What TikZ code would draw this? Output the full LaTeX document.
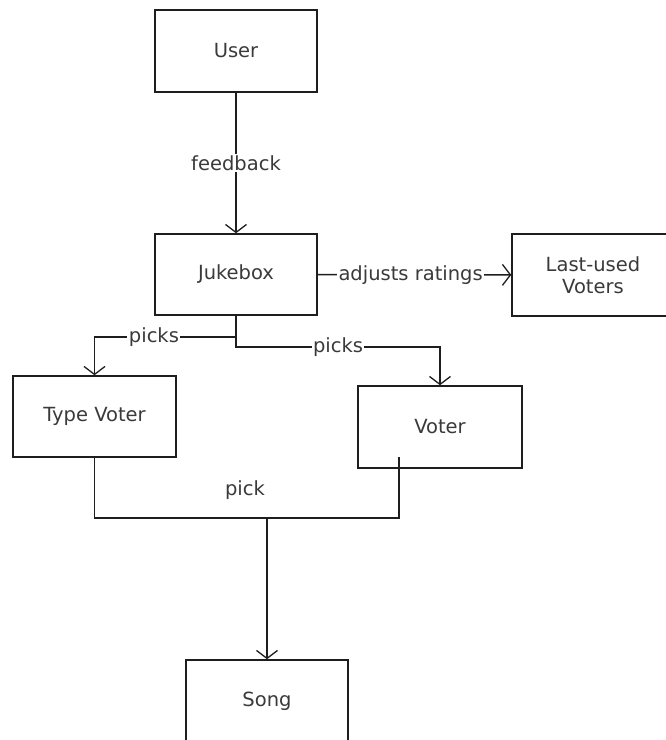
\documentclass[tikz,border=0pt]{standalone}
\usepackage{fontspec}
\setmainfont{DejaVu Sans}
\usetikzlibrary{arrows.meta}
\definecolor{ink}{HTML}{1E1E1E}
\definecolor{txt}{HTML}{3A3A3A}
\begin{document}
\begin{tikzpicture}[x=1pt,y=-1pt,
  box/.style={draw=ink, line width=1.5pt, minimum width=162pt, minimum height=82pt,
    inner sep=0pt, font=\fontsize{19.5}{22}\selectfont, text=txt, align=center},
  conn/.style={draw=ink, line width=1.5pt},
  arr/.style={conn, -{Straight Barb[length=8pt,width=21pt,line width=1.3pt]}},
  lbl/.style={fill=white, inner sep=1.5pt, font=\fontsize{19.5}{22}\selectfont, text=txt}]
\useasboundingbox (0,0) rectangle (666,740);
\clip (0,0) rectangle (666,740);
\fill[white] (0,0) rectangle (666,740);
\node[box] (user) at (236,51) {User};
\node[box, minimum height=81pt] (juke) at (236,274.5) {Jukebox};
\node[box] (last) at (593,275) {Last-used\\Voters};
\node[box, minimum width=163pt, minimum height=81pt] (tv) at (94.5,416.5) {Type Voter};
\node[box, minimum width=164pt] (voter) at (440,427) {Voter};
\node[box] (song) at (267,701) {Song};
\coordinate (pl) at (94.5,337);
\coordinate (pr) at (440,347);
\coordinate (vs) at (399,457);
\coordinate (jl) at (94.5,518);
\coordinate (jr) at (399,518);
\coordinate (jm) at (267,518);
\draw[arr] (user) -- node[lbl]{feedback} (juke);
\draw[arr] (juke) -- node[lbl, pos=0.48]{adjusts ratings} (last);
\draw[arr] (juke.south) |- node[lbl, pos=0.79]{picks} (pl) -- (tv.north);
\draw[arr] (juke.south) |- node[lbl, pos=0.75]{picks} (pr) -- (voter.north);
\draw[conn] (tv.south) -- (jl) -- (jr) -- (vs);
\draw[arr] (jm) -- (song.north);
\node[font=\fontsize{19.5}{22}\selectfont, text=txt] (picklbl) at (245,490) {pick};
\end{tikzpicture}
\end{document}
